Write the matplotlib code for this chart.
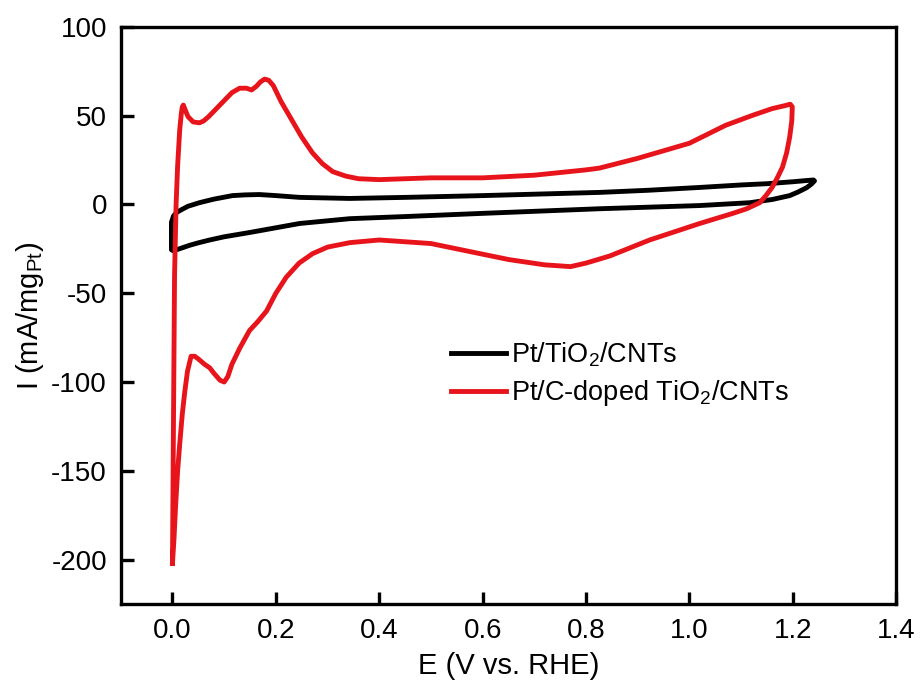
import matplotlib
matplotlib.use('Agg')
import matplotlib.pyplot as plt

plt.rcParams['font.family'] = ['Liberation Sans', 'DejaVu Sans']
plt.rcParams['mathtext.default'] = 'regular'
plt.rcParams['axes.unicode_minus'] = False

# Pt/TiO2/CNTs  (one full cycle, anodic then cathodic)
e_black = [-0.002, -0.002, 0.002, 0.008, 0.017, 0.03, 0.052, 0.08, 0.116, 0.14, 0.168, 0.2, 0.246,
           0.343, 0.45, 0.6, 0.7, 0.826, 0.92, 1.02, 1.1, 1.15, 1.2, 1.227, 1.24, 1.242, 1.236,
           1.227, 1.21, 1.194, 1.16, 1.117, 1.02, 0.826, 0.6, 0.45, 0.343, 0.246, 0.149, 0.1,
           0.072, 0.05, 0.033, 0.017, 0.008, 0.001, -0.002, -0.002]
i_black = [-24, -10, -6.5, -4.5, -3, -1, 1, 3, 5, 5.4, 5.6, 5, 4,
           3.4, 4, 5, 5.8, 6.8, 8, 9.6, 11, 11.7, 12.8, 13.5, 13.8, 13.3, 11.5,
           9.5, 7, 5, 2.8, 1, -0.6, -2.4, -5, -6.8, -8, -10.7, -15.8, -18.2,
           -20, -21.6, -23, -24.6, -25.5, -26, -25.5, -24]

# Pt/C-doped TiO2/CNTs
e_red = [0.0, 0.002, 0.004, 0.007, 0.01, 0.014, 0.017, 0.019, 0.021, 0.025, 0.03, 0.04, 0.052,
         0.06, 0.07, 0.085, 0.1, 0.115, 0.13, 0.143, 0.153, 0.162, 0.17, 0.178, 0.186, 0.195,
         0.21, 0.232, 0.25, 0.271, 0.29, 0.31, 0.335, 0.36, 0.4, 0.5, 0.6, 0.7, 0.8, 0.826, 0.9,
         1.0, 1.07, 1.12, 1.16, 1.185, 1.195, 1.199, 1.198, 1.194, 1.188, 1.18, 1.17, 1.16, 1.148,
         1.136, 1.11, 1.084, 1.02, 0.923, 0.846, 0.8, 0.77, 0.72, 0.65, 0.6, 0.5, 0.4, 0.343, 0.3,
         0.271, 0.245, 0.22, 0.2, 0.182, 0.165, 0.149, 0.13, 0.115, 0.107, 0.1, 0.092, 0.08,
         0.072, 0.062, 0.05, 0.043, 0.036, 0.029, 0.024, 0.019, 0.014, 0.01, 0.006, 0.003, 0.0]
i_red = [-202, -120, -40, 0, 22, 42, 51, 55, 56, 53, 49.5, 46.5, 46,
         47, 49.5, 54, 58.5, 63, 65.5, 65.5, 64.5, 66.5, 69, 70.6, 70, 67,
         58, 47, 38, 29, 23, 18.5, 16, 14.5, 14, 15, 15, 16.5, 19.5, 20.5, 26,
         34.5, 44.6, 50, 54, 55.7, 56.5, 55, 47, 38, 29, 21, 15, 9.6, 5,
         1, -2.5, -5, -10.7, -20, -29, -33, -35, -34, -31, -28, -22, -20, -21.5, -24,
         -27.7, -33, -41, -50, -60, -66, -71, -81, -90, -97, -100, -99, -95,
         -92, -90, -87, -85.5, -85.5, -94, -105, -118, -135, -150, -170, -188, -202]

fig = plt.figure(figsize=(9.22, 6.91), dpi=100)
ax = fig.add_axes([0.131, 0.126, 0.841, 0.835])

ax.plot(e_black, i_black, color='black', lw=3.5, label='Pt/TiO$_2$/CNTs')
ax.plot(e_red, i_red, color='#e8141b', lw=3.5, label='Pt/C-doped TiO$_2$/CNTs')

ax.set_xlim(-0.1, 1.4)
ax.set_ylim(-225, 100)
ax.set_xticks([0.0, 0.2, 0.4, 0.6, 0.8, 1.0, 1.2, 1.4])
ax.set_xticklabels(['0.0', '0.2', '0.4', '0.6', '0.8', '1.0', '1.2', '1.4'])
ax.set_yticks([-200, -150, -100, -50, 0, 50, 100])
ax.tick_params(direction='in', length=9, width=2.4, labelsize=20, pad=10)
for s in ax.spines.values():
    s.set_linewidth(2.4)

ax.set_xlabel('E (V vs. RHE)', fontsize=21, labelpad=6)
ax.set_ylabel('I (mA/mg$_{Pt}$)', fontsize=21, labelpad=4)

ax.legend(loc='center left', bbox_to_anchor=(0.395, 0.398), frameon=False, fontsize=19.5,
          handlelength=2.0, handletextpad=0.2, labelspacing=0.35)

fig.savefig('out.png', dpi=100)
